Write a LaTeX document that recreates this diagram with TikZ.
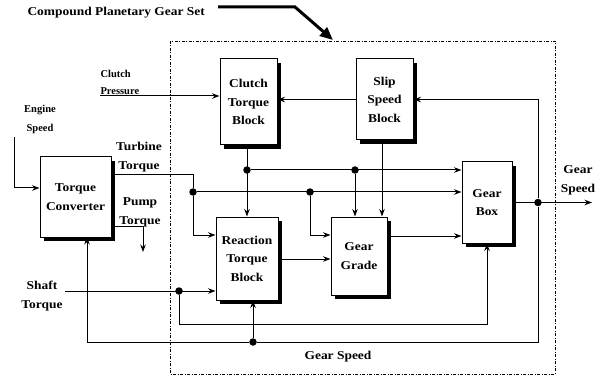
\documentclass[tikz,border=0pt]{standalone}
\usepackage{fontspec}
\setmainfont{Liberation Serif}
\newfontfamily\wideserif{Liberation Serif}[FakeStretch=1.12]
\usetikzlibrary{arrows.meta,shadows}
\begin{document}
\begin{tikzpicture}[x=1pt,y=-1pt,
  line width=1pt,
  blk/.style={draw, line width=1pt, fill=white, align=center, inner sep=0pt,
    font=\wideserif\fontsize{12}{18.5}\selectfont\bfseries,
    drop shadow={shadow xshift=4pt, shadow yshift=-4pt, fill=black, opacity=1}},
  lbl/.style={font=\wideserif\fontsize{12}{19}\selectfont\bfseries, inner sep=0pt, align=center},
  slbl/.style={font=\fontsize{10.5}{19}\selectfont\bfseries, inner sep=0pt, align=left},
  arr/.style={-{Stealth[length=7.5pt,width=5.5pt]}},
  dot/.style={circle, fill=black, inner sep=0pt, minimum size=7.5pt},
  setbox/.style={line width=0.8pt, dash pattern=on 3pt off 1.5pt on 1pt off 1.5pt}
]
\useasboundingbox (0,0) rectangle (600,377);

% compound planetary gear set frame
\coordinate (fr1) at (170,41);
\coordinate (fr2) at (555,374);
\draw[setbox] (fr1) rectangle (fr2);
\node[lbl, anchor=west] (title) at (27,13) {Compound Planetary Gear Set};
\coordinate (ba1) at (218,7);
\coordinate (ba2) at (295,7);
\coordinate (ba3) at (333,40);
\draw[line width=3pt, -{Triangle[length=13pt,width=11pt]}] (ba1) -- (ba2) -- (ba3);

% blocks
\node[blk, minimum width=57pt, minimum height=86pt] (clutch) at (248.5,102) {Clutch\\Torque\\Block};
\node[blk, minimum width=57pt, minimum height=81pt] (slip) at (384.5,99.5) {Slip\\Speed\\Block};
\node[blk, minimum width=71pt, minimum height=80pt] (tc) at (75.5,197) {Torque\\Converter};
\node[blk, minimum width=62pt, minimum height=83pt] (react) at (247,258.5) {Reaction\\Torque\\Block};
\node[blk, minimum width=56pt, minimum height=78pt] (grade) at (359,256) {Gear\\Grade};
\node[blk, minimum width=50pt, minimum height=81pt] (gbox) at (487,202.5) {Gear\\Box};

% junction dots
\node[dot] (j1) at (247,170) {};
\node[dot] (j2) at (355,170) {};
\node[dot] (j3) at (193,192) {};
\node[dot] (j4) at (310,192) {};
\node[dot] (j5) at (538,202.5) {};
\node[dot] (j6) at (253,342) {};
\node[dot] (j7) at (179,291) {};

% helper coordinates
\coordinate (cp) at (100,96);
\coordinate (es) at (14,137);
\coordinate (esy) at (0,188);
\coordinate (tty) at (0,175);
\coordinate (pt) at (143,252);
\coordinate (pty) at (0,226);
\coordinate (st) at (65,291);
\coordinate (y235) at (0,235);
\coordinate (y259) at (0,259);
\coordinate (y236) at (0,236);
\coordinate (sx) at (382,0);
\coordinate (gs) at (592,202.5);
\coordinate (tcin) at (87,237);
\coordinate (gbx) at (487,324);

% clutch pressure
\draw[arr] (cp) -- (cp -| clutch.west);
\node[slbl, anchor=west] (cpl1) at (100,74) {Clutch};
\node[slbl, anchor=west] (cpl2) at (100,91) {Pressure};

% slip -> clutch
\draw[arr] (slip.west) -- (slip.west -| clutch.east);

% gear speed feedback
\draw[arr] (j5) |- (slip.east);
\draw[arr] (gbox.east) -- (gs);
\node[lbl] (gsl) at (578,180) {Gear\\Speed};
\draw (j5) |- (j6);
\draw[arr] (j6) -| (tcin);
\draw[arr] (j6) -- (react.south -| j6);
\node[lbl] (gsb) at (338,357) {Gear Speed};

% clutch torque out
\draw[arr] (clutch.south -| j1) -- (react.north -| j1);
\draw[arr] (j1) -- (gbox.west |- j1);
\draw[arr] (j2) -- (grade.north -| j2);

% slip out
\draw[arr] (slip.south -| sx) -- (grade.north -| sx);

% turbine torque
\draw (tc.east |- tty) -| (j3);
\draw[arr] (j3) -- (gbox.west |- j3);
\draw[arr] (j3) |- (react.west |- y235);
\draw[arr] (j4) |- (grade.west |- y235);
\node[lbl] (ttl) at (139,157) {Turbine\\Torque};

% pump torque
\draw[arr] (tc.east |- pty) -| (pt);
\node[lbl] (ptl) at (140,212) {Pump\\Torque};

% reaction -> grade, grade -> gear box
\draw[arr] (react.east |- y259) -- (grade.west |- y259);
\draw[arr] (grade.east |- y236) -- (gbox.west |- y236);

% shaft torque
\draw[arr] (st) -- (react.west |- st);
\draw[arr] (j7) |- (gbx) -- (gbox.south -| gbx);
\node[lbl] (stl) at (42,296) {Shaft\\Torque};

% engine speed
\draw[arr] (es) |- (tc.west |- esy);
\node[slbl, align=center] (esl) at (40,119) {Engine\\Speed};
\end{tikzpicture}
\end{document}
